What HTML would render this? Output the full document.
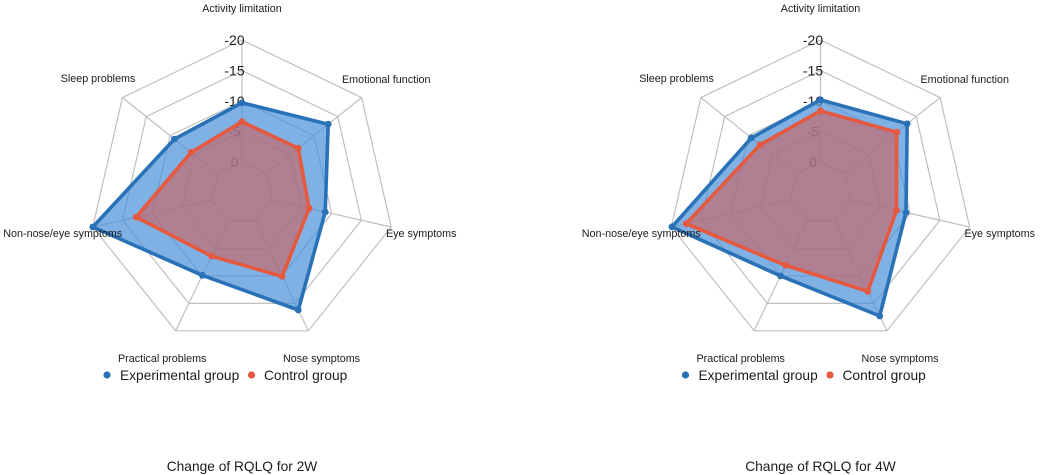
<!DOCTYPE html>
<html>
<head>
<meta charset="utf-8">
<title>Change of RQLQ radar charts</title>
<style>
html,body{margin:0;padding:0;background:#fff;}
svg{display:block;font-family:"Liberation Sans",sans-serif;filter:blur(0.35px);}
</style>
</head>
<body>
<svg id="chart" width="1040" height="475" viewBox="0 0 1040 475"></svg>
<script>
const categories = ["Activity limitation","Emotional function","Eye symptoms","Nose symptoms","Practical problems","Non-nose/eye symptoms","Sleep problems"];
const tickValues = [0,5,10,15,20];
const tickLabels = ["0","-5","-10","-15","-20"];
const seriesNames = ["Experimental group","Control group"];
const experimental2W = [9.7,13.0,8.9,16.2,9.9,20.0,9.1];
const control2W = [6.6,6.7,6.2,10.1,6.4,12.7,5.6];
const experimental4W = [10.2,13.1,9.3,17.3,10.0,19.9,9.4];
const control4W = [8.4,10.9,7.7,12.8,8.1,17.5,7.6];
const title2W = "Change of RQLQ for 2W";
const title4W = "Change of RQLQ for 4W";

const NS = "http://www.w3.org/2000/svg";
const root = document.getElementById("chart");
const cy = 193, innerR = 31, outerR = 153, axisMax = 20;
const BLUE = "#2a72b8", RED = "#e4593f", LABEL = "#1c1c1c";
const BLUE_FILL = "#4a90d9", RED_FILL = "#d05f5b";
const labelBox = [
  [0,-185,"middle"],[100,-114,"start"],[144,40,"start"],[41,165,"start"],
  [-124,165,"start"],[-238.7,40,"start"],[-181.3,-115,"start"]
];

function rOf(v){ return innerR + (outerR - innerR) * v / axisMax; }
function angleOf(i){ return 2 * Math.PI * i / categories.length; }
function px(cx,i,r){ return cx + r * Math.sin(angleOf(i)); }
function py(i,r){ return cy - r * Math.cos(angleOf(i)); }
function make(tag,parent){ const e = document.createElementNS(NS,tag); parent.appendChild(e); return e; }
function pointsFor(cx,values){ return values.map(function(v,i){ return px(cx,i,rOf(v)).toFixed(1)+","+py(i,rOf(v)).toFixed(1); }).join(" "); }

function drawSeries(g,cx,values,color,fillColor,fillOpacity,key){
  const area = make("polygon",g);
  
  
  area.setAttribute("points", pointsFor(cx,values));
  area.setAttribute("fill", fillColor);
  area.setAttribute("fill-opacity", fillOpacity);
  const outline = make("polygon",g);
  
  
  outline.setAttribute("points", pointsFor(cx,values));
  outline.setAttribute("fill", "none");
  outline.setAttribute("stroke", color);
  outline.setAttribute("stroke-width", "3.6");
  outline.setAttribute("stroke-linejoin", "round");
  values.forEach(function(v,i){
    const dot = make("circle",g);
    
    
    dot.setAttribute("cx", px(cx,i,rOf(v)).toFixed(1));
    dot.setAttribute("cy", py(i,rOf(v)).toFixed(1));
    dot.setAttribute("r", "3.4");
    dot.setAttribute("fill", color);
  });
}

function drawRadar(cx,expValues,ctrlValues,titleText,key){
  const g = make("g",root);
  
  

  tickValues.forEach(function(t){
    const ring = make("polygon",g);
    
    
    ring.setAttribute("points", categories.map(function(c,i){ return px(cx,i,rOf(t)).toFixed(1)+","+py(i,rOf(t)).toFixed(1); }).join(" "));
    ring.setAttribute("fill", "none");
    ring.setAttribute("stroke", "#c0c0c0");
    ring.setAttribute("stroke-width", "1.2");
  });
  categories.forEach(function(c,i){
    const spoke = make("line",g);
    
    
    spoke.setAttribute("x1", px(cx,i,rOf(0)).toFixed(1));
    spoke.setAttribute("y1", py(i,rOf(0)).toFixed(1));
    spoke.setAttribute("x2", px(cx,i,rOf(axisMax)).toFixed(1));
    spoke.setAttribute("y2", py(i,rOf(axisMax)).toFixed(1));
    spoke.setAttribute("stroke", "#c0c0c0");
    spoke.setAttribute("stroke-width", "1.2");
  });
  tickValues.forEach(function(t,k){
    const tick = make("text",g);
    
    
    tick.setAttribute("x", cx - 7.5);
    tick.setAttribute("y", cy - rOf(t) + 5);
    tick.setAttribute("text-anchor", "middle");
    tick.setAttribute("font-size", "14");
    tick.setAttribute("fill", "#222");
    tick.textContent = tickLabels[k];
  });

  drawSeries(g,cx,expValues,BLUE,BLUE_FILL,0.7,key + "-experimental");
  drawSeries(g,cx,ctrlValues,RED,RED_FILL,0.6,key + "-control");

  categories.forEach(function(c,i){
    const label = make("text",g);
    
    
    label.setAttribute("x", cx + labelBox[i][0]);
    label.setAttribute("y", cy + labelBox[i][1] + 4);
    label.setAttribute("text-anchor", labelBox[i][2]);
    label.setAttribute("font-size", "10.75");
    label.setAttribute("fill", LABEL);
    label.textContent = c;
  });

  const legendDot1 = make("circle",g);
  
  
  legendDot1.setAttribute("cx", cx - 135);
  legendDot1.setAttribute("cy", 375);
  legendDot1.setAttribute("r", "3.6");
  legendDot1.setAttribute("fill", BLUE);
  const legendText1 = make("text",g);
  
  
  legendText1.setAttribute("x", cx - 122);
  legendText1.setAttribute("y", 380);
  legendText1.setAttribute("font-size", "13.75");
  legendText1.setAttribute("fill", LABEL);
  legendText1.textContent = seriesNames[0];
  const legendDot2 = make("circle",g);
  
  
  legendDot2.setAttribute("cx", cx + 9.5);
  legendDot2.setAttribute("cy", 375);
  legendDot2.setAttribute("r", "3.6");
  legendDot2.setAttribute("fill", RED);
  const legendText2 = make("text",g);
  
  
  legendText2.setAttribute("x", cx + 22);
  legendText2.setAttribute("y", 380);
  legendText2.setAttribute("font-size", "13.75");
  legendText2.setAttribute("fill", LABEL);
  legendText2.textContent = seriesNames[1];

  const titleEl = make("text",g);
  
  
  titleEl.setAttribute("x", cx);
  titleEl.setAttribute("y", 471);
  titleEl.setAttribute("text-anchor", "middle");
  titleEl.setAttribute("font-size", "13.75");
  titleEl.setAttribute("fill", LABEL);
  titleEl.textContent = titleText;
}

drawRadar(242,experimental2W,control2W,title2W,"week-2");
drawRadar(820.5,experimental4W,control4W,title4W,"week-4");
</script>
</body>
</html>
